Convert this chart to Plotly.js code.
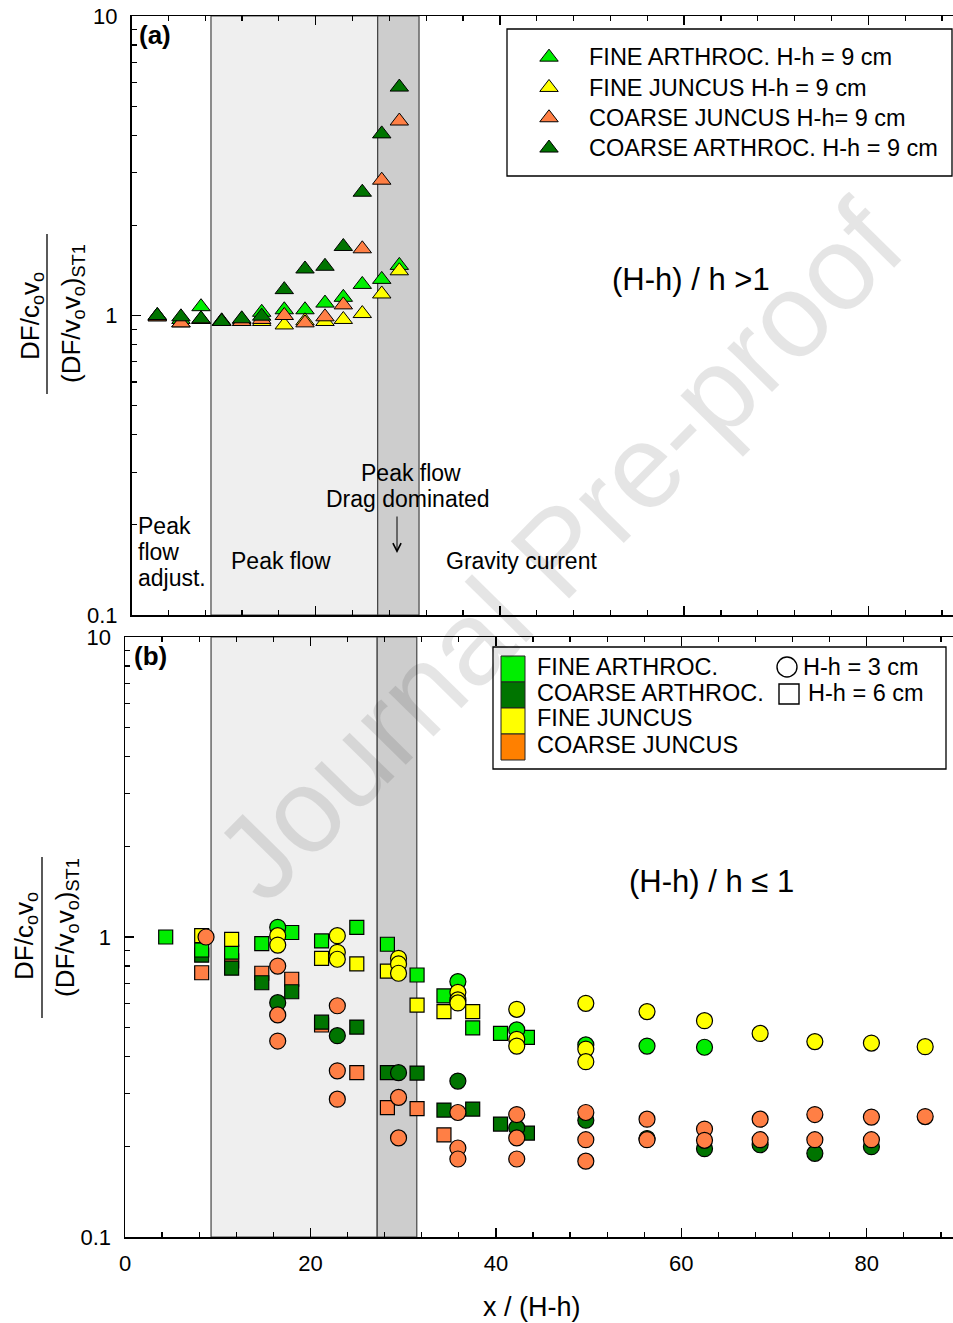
<!DOCTYPE html>
<html><head><meta charset="utf-8">
<script src="https://cdn.plot.ly/plotly-3.0.1.min.js"></script>
<style>html,body{margin:0;padding:0;background:#fff}#g{width:953px;height:1323px}</style>
</head><body><div id="g"></div>
<script>
// ---------- Panel (a): (H-h)/h > 1, H-h = 9 cm ----------
const xA = [2.80, 5.37, 7.55, 9.79, 11.97, 14.14, 16.59, 18.84, 21.01, 23.0, 25.06, 27.17, 29.08];
const fineArthrocA   = [1.00, 0.97, 1.07, 0.96, 0.97, 1.025, 1.045, 1.045, 1.10, 1.15, 1.27, 1.32, 1.47];
const fineJuncusA    = [0.99, 0.945, 0.97, 0.955, 0.955, 0.955, 0.93, 0.96, 0.955, 0.97, 1.015, 1.18, 1.41];
const coarseJuncusA  = [0.99, 0.945, 0.97, 0.955, 0.955, 0.97, 1.00, 0.945, 0.99, 1.085, 1.67, 2.83, 4.46];
const coarseArthrocA = [1.00, 0.99, 0.975, 0.955, 0.975, 0.995, 1.22, 1.43, 1.46, 1.70, 2.58, 4.04, 5.79];
const namesA = ["FINE ARTHROC. H-h = 9 cm", "FINE JUNCUS H-h = 9 cm", "COARSE JUNCUS H-h= 9 cm", "COARSE ARTHROC. H-h = 9 cm"];

// ---------- Panel (b): (H-h)/h <= 1 ----------
// squares: H-h = 6 cm
const fineArthrocSqX = [4.39, 8.27, 11.5, 14.75, 17.98, 21.2, 25.0, 28.3, 31.5, 34.4, 37.5, 40.5, 43.4];
const fineArthrocSqY = [1.0, 0.905, 0.89, 0.95, 1.035, 0.97, 1.077, 0.946, 0.747, 0.636, 0.498, 0.477, 0.463];
const fineJuncusSqX = [8.27, 11.5, 21.2, 25.0, 28.3, 31.5, 34.4, 37.5];
const fineJuncusSqY = [1.01, 0.982, 0.849, 0.813, 0.77, 0.593, 0.564, 0.564];
const coarseArthrocSqX = [8.27, 11.5, 14.75, 17.98, 21.2, 25.0, 28.3, 31.5, 34.4, 37.5, 40.5, 43.4];
const coarseArthrocSqY = [0.87, 0.787, 0.704, 0.657, 0.52, 0.501, 0.353, 0.352, 0.265, 0.267, 0.238, 0.222];
const coarseJuncusSqX = [8.27, 11.5, 14.75, 17.98, 21.2, 25.0, 28.3, 31.5, 34.4];
const coarseJuncusSqY = [0.76, 0.832, 0.757, 0.723, 0.509, 0.353, 0.27, 0.268, 0.219];
// circles: H-h = 3 cm
const fineArthrocCiX = [16.47, 35.9, 42.25, 49.7, 56.3, 62.5];
const fineArthrocCiY = [1.077, 0.71, 0.49, 0.437, 0.433, 0.429];
const fineJuncusCiX = [16.47, 16.47, 22.9, 22.9, 22.9, 29.5, 29.5, 29.5, 35.9, 35.9, 35.9, 42.25, 42.25, 42.25, 49.7, 49.7, 49.7, 56.3, 62.5, 68.5, 74.4, 80.5, 86.3];
const fineJuncusCiY = [1.01, 0.94, 1.01, 0.889, 0.843, 0.849, 0.813, 0.757, 0.654, 0.617, 0.603, 0.574, 0.456, 0.433, 0.601, 0.423, 0.384, 0.564, 0.526, 0.477, 0.448, 0.443, 0.431];
const coarseArthrocCiX = [16.47, 22.9, 29.5, 35.9, 42.25, 49.7, 56.3, 62.5, 68.5, 74.4, 80.5];
const coarseArthrocCiY = [0.604, 0.469, 0.353, 0.331, 0.231, 0.245, 0.213, 0.197, 0.203, 0.19, 0.20];
const coarseJuncusCiX = [8.74, 16.47, 16.47, 16.47, 22.9, 22.9, 22.9, 29.5, 29.5, 35.9, 35.9, 35.9, 42.25, 42.25, 42.25, 49.7, 49.7, 49.7, 56.3, 56.3, 62.5, 62.5, 68.5, 68.5, 74.4, 74.4, 80.5, 80.5, 86.3];
const coarseJuncusCiY = [1.0, 0.80, 0.55, 0.45, 0.59, 0.358, 0.288, 0.292, 0.214, 0.26, 0.198, 0.182, 0.256, 0.214, 0.182, 0.26, 0.211, 0.179, 0.247, 0.211, 0.229, 0.21, 0.247, 0.211, 0.256, 0.211, 0.251, 0.211, 0.252];

const legendB = ["FINE ARTHROC.", "COARSE ARTHROC.", "FINE JUNCUS", "COARSE JUNCUS"];
const legendShapesB = ["H-h = 3 cm", "H-h = 6 cm"];

// regime boundaries (x/(H-h))
const regA = [8.63, 26.73, 31.22];
const regB = [9.28, 27.2, 31.47];

// ---------- styling ----------
const C = {lg: '#00ee00', dg: '#007400', ye: '#ffff00', orM: '#ff7f45', orL: '#ff8000'};
const FONT = 'Liberation Sans, Arial, sans-serif';
const W = 953, H = 1323;
const px = v => v / W, py = v => 1 - v / H;

function tri(x, y, col, name) {
  return {x, y, name: '<span style="font-size:23.5px">' + name + '</span>', type: 'scatter', mode: 'markers', xaxis: 'x', yaxis: 'y', showlegend: true, legend: 'legend',
    marker: {symbol: 'triangle-up', size: 16, color: col, line: {color: '#000', width: 1}}};
}
function mk(x, y, col, sym, size) {
  return {x, y, type: 'scatter', mode: 'markers', xaxis: 'x2', yaxis: 'y2', showlegend: false,
    marker: {symbol: sym, size, color: col, line: {color: '#000', width: 1.2}}};
}
const traces = [
  tri(xA, fineArthrocA, C.lg, namesA[0]),
  tri(xA, fineJuncusA, C.ye, namesA[1]),
  tri(xA, coarseJuncusA, C.orM, namesA[2]),
  tri(xA, coarseArthrocA, C.dg, namesA[3]),
  mk(coarseJuncusSqX, coarseJuncusSqY, C.orM, 'square', 14),
  mk(coarseArthrocSqX, coarseArthrocSqY, C.dg, 'square', 14),
  mk(fineArthrocSqX, fineArthrocSqY, C.lg, 'square', 14),
  mk(fineJuncusSqX, fineJuncusSqY, C.ye, 'square', 14),
  mk(coarseArthrocCiX, coarseArthrocCiY, C.dg, 'circle', 16),
  mk(coarseJuncusCiX, coarseJuncusCiY, C.orM, 'circle', 16),
  mk(fineArthrocCiX, fineArthrocCiY, C.lg, 'circle', 16),
  mk(fineJuncusCiX, fineJuncusCiY, C.ye, 'circle', 16),
];

const minorLog = [0.2,0.3,0.4,0.5,0.6,0.7,0.8,0.9,2,3,4,5,6,7,8,9];
function xax(domainStart, rng, labels) {
  return {domain: [domainStart, 1], range: rng, showgrid: false, zeroline: false, showline: true, linecolor: '#000', linewidth: 1.5,
    mirror: 'ticks', ticks: 'inside', ticklen: 9, tickwidth: 1.3, tickcolor: '#000', dtick: 20, tick0: 0,
    minor: {dtick: 4, tick0: 0, ticks: 'inside', ticklen: 5, tickwidth: 1.2, tickcolor: '#000', showgrid: false},
    showticklabels: labels, tickfont: {family: FONT, size: 22, color: '#000'}, ticklabelstandoff: 6};
}
function yax(dom, anchor) {
  return {domain: dom, type: 'log', range: [-1, 1], anchor, showgrid: false, zeroline: false, showline: true, linecolor: '#000', linewidth: 1.5,
    mirror: false, ticks: 'inside', ticklen: 9, tickwidth: 1.3, tickcolor: '#000',
    tickmode: 'array', tickvals: [0.1, 1, 10], ticktext: ['0.1', '1', '10'],
    minor: {tickmode: 'array', tickvals: minorLog, ticks: 'inside', ticklen: 5, tickwidth: 1.2, tickcolor: '#000', showgrid: false},
    tickfont: {family: FONT, size: 22, color: '#000'}, ticklabelstandoff: 8};
}

const shapes = [];
function regions(reg, xr, yr) {
  shapes.push({type: 'rect', xref: xr, yref: yr + ' domain', x0: reg[0], x1: reg[1], y0: 0, y1: 1, fillcolor: '#efefef', line: {color: '#444', width: 1.2}, layer: 'below'});
  shapes.push({type: 'rect', xref: xr, yref: yr + ' domain', x0: reg[1], x1: reg[2], y0: 0, y1: 1, fillcolor: '#cdcdcd', line: {color: '#444', width: 1.2}, layer: 'below'});
}
regions(regA, 'x', 'y');
regions(regB, 'x2', 'y2');
// legend frames
shapes.push({type: 'rect', xref: 'paper', yref: 'paper', x0: px(507), x1: px(952), y0: py(176), y1: py(29), line: {color: '#000', width: 1.3}, fillcolor: 'rgba(0,0,0,0)'});
shapes.push({type: 'rect', xref: 'paper', yref: 'paper', x0: px(493), x1: px(946), y0: py(769), y1: py(647), line: {color: '#000', width: 1.3}, fillcolor: '#fff'});
// legend colour patches (b)
const patchCols = [C.lg, C.dg, C.ye, C.orL];
const patchY = [656, 682, 708, 734, 760];
patchCols.forEach((c, i) => shapes.push({type: 'rect', xref: 'paper', yref: 'paper', x0: px(501), x1: px(525), y0: py(patchY[i + 1]), y1: py(patchY[i]), fillcolor: c, line: {color: '#222', width: 1}}));
// open symbol keys (b)
shapes.push({type: 'circle', xref: 'paper', yref: 'paper', x0: px(777), x1: px(797), y0: py(677), y1: py(657), line: {color: '#000', width: 1.4}, fillcolor: 'rgba(0,0,0,0)'});
shapes.push({type: 'rect', xref: 'paper', yref: 'paper', x0: px(779), x1: px(799), y0: py(704), y1: py(684), line: {color: '#000', width: 1.4}, fillcolor: 'rgba(0,0,0,0)'});
// y-title fraction bars
shapes.push({type: 'line', xref: 'paper', yref: 'paper', x0: px(47), x1: px(47), y0: py(234), y1: py(394), line: {color: '#000', width: 1.3}});
shapes.push({type: 'line', xref: 'paper', yref: 'paper', x0: px(42), x1: px(42), y0: py(857), y1: py(1018), line: {color: '#000', width: 1.3}});

const annotations = [];
function txt(t, x, y, opts = {}) {
  annotations.push(Object.assign({text: t, xref: 'paper', yref: 'paper', x: px(x), y: py(y), showarrow: false,
    xanchor: 'left', yanchor: 'middle', font: {family: FONT, size: 23, color: '#000'}}, opts));
}
// watermark
txt('Journal Pre-proof', 558, 550, {xanchor: 'center', textangle: -45.5, font: {family: FONT, size: 119, color: 'rgba(0,0,0,0.1)'}});
txt('<b>(a)</b>', 137, 35, {font: {family: FONT, size: 26, color: '#000'}});
txt('<b>(b)</b>', 132, 656, {font: {family: FONT, size: 26, color: '#000'}});
txt('(H-h) / h >1', 610, 279, {font: {family: FONT, size: 31, color: '#000'}});
txt('(H-h) / h \u2264 1', 627, 881, {font: {family: FONT, size: 31, color: '#000'}});
txt('Peak flow', 411, 473, {xanchor: 'center'});
txt('Drag dominated', 408, 499, {xanchor: 'center'});
txt('Peak', 136, 526);
txt('flow', 136, 552);
txt('adjust.', 136, 578);
txt('Peak flow', 229, 561);
txt('Gravity current', 444, 561);
// arrow
annotations.push({xref: 'paper', yref: 'paper', x: px(397), y: py(553), ax: 0, ay: -38, text: '', showarrow: true,
  arrowhead: 5, arrowsize: 1.6, arrowwidth: 1, arrowcolor: '#000'});
// legend (b) texts
const legY = [667, 693, 718, 745];
legendB.forEach((t, i) => txt(t, 535, legY[i], {font: {family: FONT, size: 23.5, color: '#000'}}));
txt(legendShapesB[0], 801, 667, {font: {family: FONT, size: 23.5, color: '#000'}});
txt(legendShapesB[1], 806, 693, {font: {family: FONT, size: 23.5, color: '#000'}});
// axis titles
txt('x / (H-h)', 532, 1307, {xanchor: 'center', font: {family: FONT, size: 27, color: '#000'}});
const numT = 'DF/c<sub>o</sub>v<sub>o</sub>';
const denT = '(DF/v<sub>o</sub>v<sub>o</sub>)<sub>ST1</sub>';
txt(numT, 31, 316, {xanchor: 'center', textangle: -90, font: {family: FONT, size: 26, color: '#000'}});
txt(denT, 72, 314, {xanchor: 'center', textangle: -90, font: {family: FONT, size: 26, color: '#000'}});
txt(numT, 25, 936, {xanchor: 'center', textangle: -90, font: {family: FONT, size: 26, color: '#000'}});
txt(denT, 66, 928, {xanchor: 'center', textangle: -90, font: {family: FONT, size: 26, color: '#000'}});

const layout = {
  width: W, height: H, margin: {l: 0, r: 0, t: 0, b: 0}, paper_bgcolor: '#fff', plot_bgcolor: 'rgba(0,0,0,0)',
  font: {family: FONT, color: '#000'},
  xaxis: Object.assign(xax(131.5 / W, [0, 89.2], false), {anchor: 'y'}),
  yaxis: yax([py(615), py(16)], 'x'),
  xaxis2: Object.assign(xax(125 / W, [0, 89.3], true), {anchor: 'y2'}),
  yaxis2: yax([py(1237), py(637)], 'x2'),
  legend: {x: px(509), y: py(37), xanchor: 'left', yanchor: 'top', bgcolor: 'rgba(0,0,0,0)', borderwidth: 0,
    font: {family: FONT, size: 21, color: '#000'}, itemwidth: 70, tracegroupgap: 0},
  shapes, annotations
};
Plotly.newPlot('g', traces, layout, {staticPlot: true});
</script></body></html>
